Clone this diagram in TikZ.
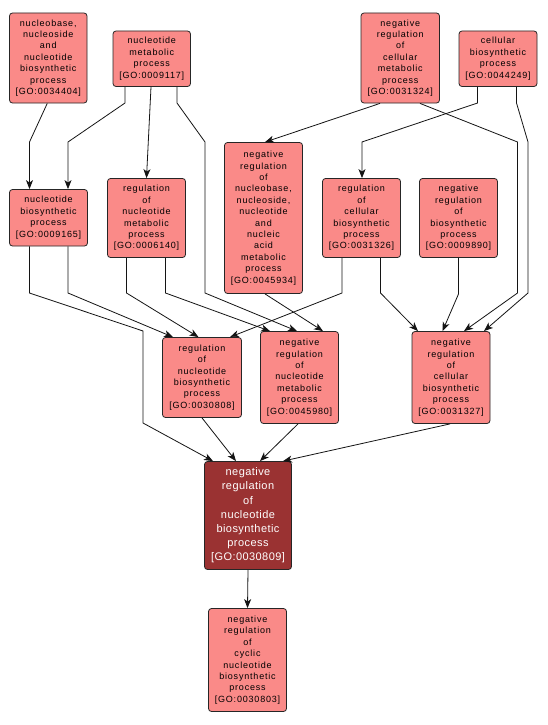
\documentclass[tikz,border=0pt]{standalone}
\usepackage{fontspec}
\usetikzlibrary{arrows.meta}
\newfontfamily\smallnf[LetterSpace=9]{Liberation Sans}
\newfontfamily\bignf[LetterSpace=4]{Liberation Sans}
\definecolor{nodefill}{RGB}{250,138,136}
\definecolor{mainfill}{RGB}{154,50,50}
\definecolor{edgecol}{RGB}{20,20,20}
\tikzset{
  gobox/.style={draw=black!85, line width=0.8pt, fill=nodefill, rounded corners=3pt,
    inner sep=0pt, align=center, text=black,
    font=\smallnf\fontsize{9}{11.4}\selectfont},
  mainbox/.style={gobox, fill=mainfill, text=white,
    font=\bignf\fontsize{11}{14.2}\selectfont},
  edge/.style={draw=edgecol, line width=0.8pt, -{Stealth[length=9pt,width=7pt,inset=2.5pt]}}
}
\begin{document}
\begin{tikzpicture}[x=1pt,y=-1pt]
\useasboundingbox (0,0) rectangle (547,725);
\fill[white] (0,0) rectangle (547,725);

\node[gobox, minimum width=77.5pt, minimum height=90pt] (n34404) at (48.25,58)
  {nucleobase,\\nucleoside\\and\\nucleotide\\biosynthetic\\process\\{[GO:0034404]}};
\node[gobox, minimum width=77.5pt, minimum height=55.5pt] (n9117) at (151.75,58.75)
  {nucleotide\\metabolic\\process\\{[GO:0009117]}};
\node[gobox, minimum width=78.5pt, minimum height=90pt] (n31324) at (400.25,58)
  {negative\\regulation\\of\\cellular\\metabolic\\process\\{[GO:0031324]}};
\node[gobox, minimum width=78pt, minimum height=55.5pt] (n44249) at (498,58.75)
  {cellular\\biosynthetic\\process\\{[GO:0044249]}};

\node[gobox, minimum width=78pt, minimum height=56.5pt] (n9165) at (48.5,217.75)
  {nucleotide\\biosynthetic\\process\\{[GO:0009165]}};
\node[gobox, minimum width=78pt, minimum height=79pt] (n6140) at (146.5,218)
  {regulation\\of\\nucleotide\\metabolic\\process\\{[GO:0006140]}};
\node[gobox, minimum width=78pt, minimum height=151pt] (n45934) at (263.5,218)
  {negative\\regulation\\of\\nucleobase,\\nucleoside,\\nucleotide\\and\\nucleic\\acid\\metabolic\\process\\{[GO:0045934]}};
\node[gobox, minimum width=78pt, minimum height=79pt] (n31326) at (361.5,218)
  {regulation\\of\\cellular\\biosynthetic\\process\\{[GO:0031326]}};
\node[gobox, minimum width=78pt, minimum height=79pt] (n9890) at (458.5,218)
  {negative\\regulation\\of\\biosynthetic\\process\\{[GO:0009890]}};

\node[gobox, minimum width=79pt, minimum height=80pt] (n30808) at (202,377.5)
  {regulation\\of\\nucleotide\\biosynthetic\\process\\{[GO:0030808]}};
\node[gobox, minimum width=78pt, minimum height=92pt] (n45980) at (299.5,377.5)
  {negative\\regulation\\of\\nucleotide\\metabolic\\process\\{[GO:0045980]}};
\node[gobox, minimum width=78pt, minimum height=92pt] (n31327) at (451,377.5)
  {negative\\regulation\\of\\cellular\\biosynthetic\\process\\{[GO:0031327]}};

\node[mainbox, minimum width=87pt, minimum height=108pt] (n30809) at (248,515.5)
  {negative\\regulation\\of\\nucleotide\\biosynthetic\\process\\{[GO:0030809]}};
\node[gobox, minimum width=78pt, minimum height=103pt] (n30803) at (247.5,660)
  {negative\\regulation\\of\\cyclic\\nucleotide\\biosynthetic\\process\\{[GO:0030803]}};

% edges
\draw[edge] ([xshift=-1pt]n34404.south) -- (29.5,142) -- ([xshift=-19pt]n9165.north);
\draw[edge] ([xshift=-26.75pt]n9117.south) -- (125,103) -- (68,142) -- ([xshift=19.5pt]n9165.north);
\draw[edge] ([xshift=-0.75pt]n9117.south) -- (n6140.north);
\draw[edge] ([xshift=25.25pt]n9117.south) -- (177,103) -- (205,142) -- (205,293) -- ([xshift=-2.5pt]n45980.north);
\draw[edge] ([xshift=-20.25pt]n31324.south) -- ([xshift=1.5pt]n45934.north);
\draw[edge] ([xshift=19.75pt]n31324.south) -- (517.5,142) -- (517.5,293) -- ([xshift=13pt]n31327.north);
\draw[edge] ([xshift=-20.5pt]n44249.south) -- (477.5,103) -- (362,142) -- ([xshift=0.5pt]n31326.north);
\draw[edge] ([xshift=18.5pt]n44249.south) -- (516.5,103) -- (528,142) -- (528,293) -- ([xshift=33pt]n31327.north);
\draw[edge] ([xshift=-19pt]n9165.south) -- (29.5,293) -- (143,331) -- (143,423) -- ([xshift=-35pt]n30809.north);
\draw[edge] ([xshift=19.5pt]n9165.south) -- (68,293) -- ([xshift=-29pt]n30808.north);
\draw[edge] ([xshift=-20pt]n6140.south) -- (126.5,293) -- ([xshift=-3.5pt]n30808.north);
\draw[edge] ([xshift=19pt]n6140.south) -- (165.5,293) -- ([xshift=-29.5pt]n45980.north);
\draw[edge] ([xshift=1.5pt]n45934.south) -- ([xshift=23.5pt]n45980.north);
\draw[edge] ([xshift=-19.5pt]n31326.south) -- (342,293) -- ([xshift=28pt]n30808.north);
\draw[edge] ([xshift=19pt]n31326.south) -- (380.5,293) -- ([xshift=-33pt]n31327.north);
\draw[edge] (n9890.south) -- (458.5,294) -- ([xshift=-8.5pt]n31327.north);
\draw[edge] (n30808.south) -- ([xshift=-12pt]n30809.north);
\draw[edge] ([xshift=-1.5pt]n45980.south) -- ([xshift=12pt]n30809.north);
\draw[edge] ([xshift=-1pt]n31327.south) -- ([xshift=35pt]n30809.north);
\draw[edge] (n30809.south) -- (n30803.north);
\end{tikzpicture}
\end{document}
